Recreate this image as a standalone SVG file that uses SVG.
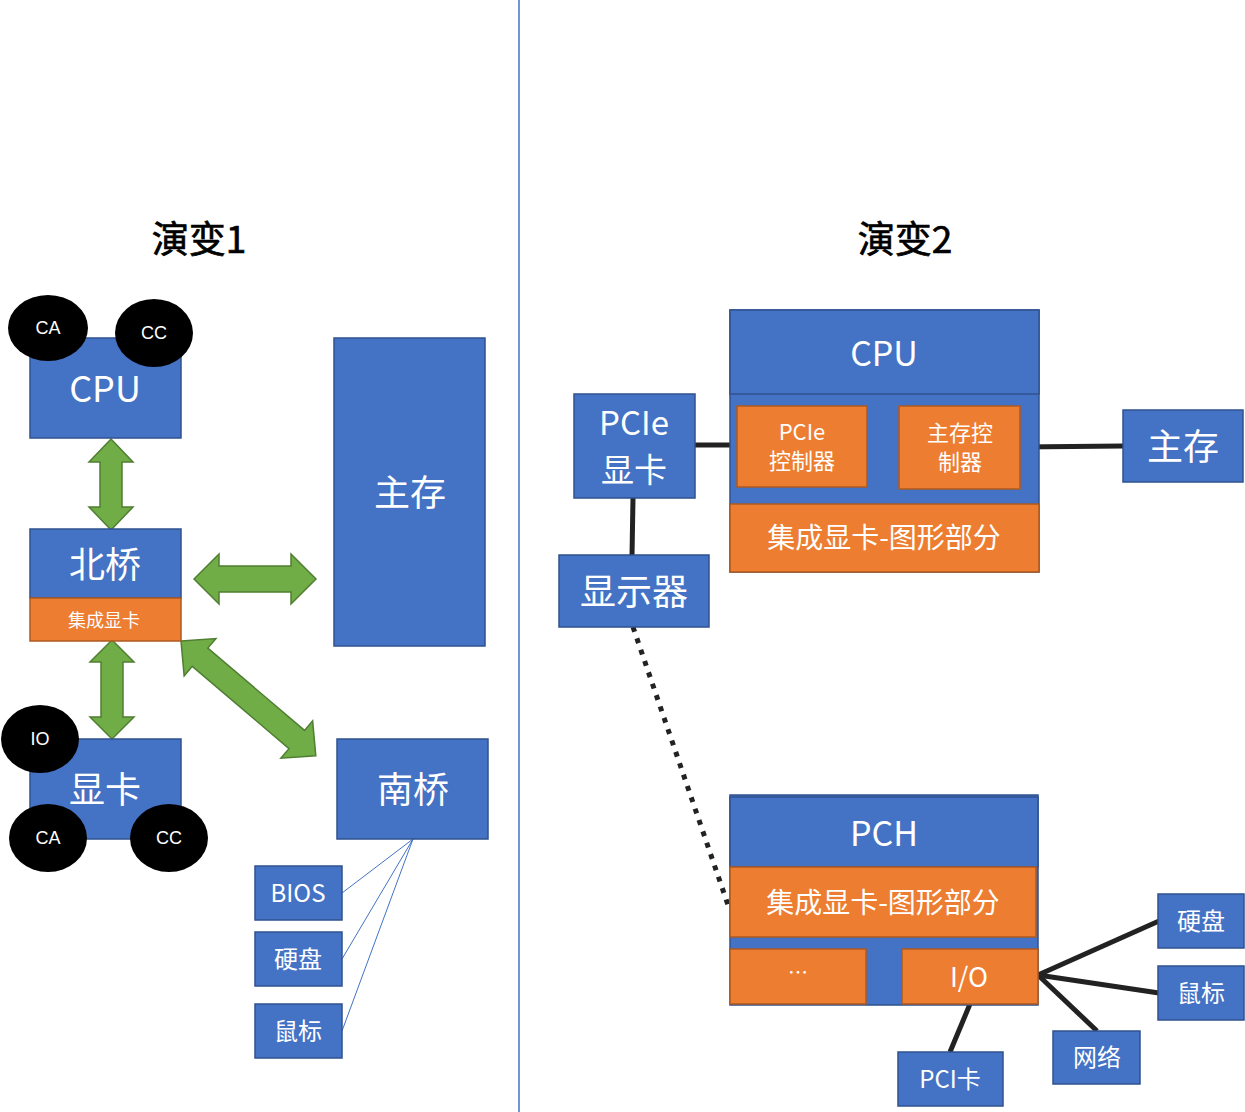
<svg xmlns="http://www.w3.org/2000/svg" width="1245" height="1112" viewBox="0 0 1245 1112">
<style>
.b{fill:#4472C4;stroke:#2F528F;stroke-width:1.5}
.o{fill:#ED7D31;stroke:#AE5A21;stroke-width:1.5}
.g{fill:#70AD47;stroke:#507E32;stroke-width:1.5}
.e{fill:#000}
.t{font-family:"Noto Sans CJK SC","Liberation Sans",sans-serif;fill:#fff;text-anchor:middle;dominant-baseline:central}
.et{font-family:"Liberation Sans","Noto Sans CJK SC",sans-serif;fill:#fff;text-anchor:middle;dominant-baseline:central;font-size:18px}
.h{font-family:"Noto Sans CJK SC","Liberation Sans",sans-serif;fill:#000;stroke:#000;stroke-width:0.7;font-size:37px;text-anchor:middle}
.k{stroke:#222;stroke-width:5;fill:none}
.thin{stroke:#4472C4;stroke-width:1;fill:none}
</style>
<rect width="1245" height="1112" fill="#fff"/>
<line x1="519" y1="0" x2="519" y2="1112" stroke="#4472C4" stroke-width="1.5"/>
<text class="h" x="199" y="253">演变1</text>
<text class="h" x="905" y="253">演变2</text>

<g id="connectors">
<polygon class="g" points="111,439 133,462 122,462 122,507 133,507 111,530 89,507 100,507 100,462 89,462"/>
<polygon class="g" points="112,640 134,662 123,662 123,717 134,717 112,739 90,717 101,717 101,662 90,662"/>
<polygon class="g" points="194,579 219,554 219,566 291,566 291,554 316,579 291,604 291,592 219,592 219,604"/>
<polygon class="g" transform="translate(181,641) rotate(40.4)" points="0,0 25,-24.5 25,-12 152,-12 152,-24.5 177,0 152,24.5 152,12 25,12 25,24.5"/>
<line class="thin" x1="413" y1="839" x2="342" y2="893"/>
<line class="thin" x1="413" y1="839" x2="342" y2="959"/>
<line class="thin" x1="413" y1="839" x2="342" y2="1031"/>
<line class="k" x1="695" y1="445" x2="738" y2="445"/>
<line class="k" x1="1020" y1="447" x2="1123" y2="446"/>
<line class="k" x1="633" y1="498" x2="632" y2="556"/>
<line x1="633" y1="627" x2="728" y2="905" stroke="#222" stroke-width="5" stroke-dasharray="5 7"/>
<line class="k" x1="1038" y1="975" x2="1159" y2="921"/>
<line class="k" x1="1038" y1="975" x2="1159" y2="993"/>
<line class="k" x1="1038" y1="975" x2="1097" y2="1031"/>
<line class="k" x1="970" y1="1004" x2="950" y2="1052"/>
</g>

<g id="cpu1"><rect class="b" x="30" y="338" width="151" height="100"/><text class="t" x="105" y="386" font-size="36">CPU</text></g>
<g id="ca1"><ellipse class="e" cx="48" cy="328" rx="40" ry="33"/><text class="et" x="48" y="328">CA</text></g>
<g id="cc1"><ellipse class="e" cx="154" cy="333" rx="39" ry="34"/><text class="et" x="154" y="333">CC</text></g>
<g id="northbridge"><rect class="b" x="30" y="529" width="151" height="69"/><text class="t" x="105" y="562" font-size="36">北桥</text></g>
<g id="igpu1"><rect class="o" x="30" y="598" width="151" height="43"/><text class="t" x="104" y="619" font-size="18">集成显卡</text></g>
<g id="mem1"><rect class="b" x="334" y="338" width="151" height="308"/><text class="t" x="410" y="490" font-size="36">主存</text></g>
<g id="gpu1"><rect class="b" x="30" y="739" width="151" height="100"/><text class="t" x="105" y="787" font-size="36">显卡</text></g>
<g id="io1"><ellipse class="e" cx="40" cy="739" rx="39" ry="34"/><text class="et" x="40" y="739">IO</text></g>
<g id="ca2"><ellipse class="e" cx="48" cy="838" rx="39" ry="34"/><text class="et" x="48" y="838">CA</text></g>
<g id="cc2"><ellipse class="e" cx="169" cy="838" rx="39" ry="34"/><text class="et" x="169" y="838">CC</text></g>
<g id="southbridge"><rect class="b" x="337" y="739" width="151" height="100"/><text class="t" x="413" y="787" font-size="36">南桥</text></g>
<g id="bios"><rect class="b" x="255" y="866" width="87" height="54"/><text class="t" x="298" y="891" font-size="24">BIOS</text></g>
<g id="disk1"><rect class="b" x="255" y="932" width="87" height="54"/><text class="t" x="298" y="957" font-size="24">硬盘</text></g>
<g id="mouse1"><rect class="b" x="255" y="1004" width="87" height="54"/><text class="t" x="298" y="1029" font-size="24">鼠标</text></g>

<g id="cpu2"><rect class="b" x="730" y="310" width="309" height="262"/><rect class="b" x="730" y="310" width="309" height="84"/><text class="t" x="884" y="351" font-size="34">CPU</text></g>
<g id="pciectl"><rect class="o" x="737" y="406" width="130" height="81"/><text class="t" x="802" y="430" font-size="22">PCIe</text><text class="t" x="802" y="459" font-size="22">控制器</text></g>
<g id="memctl"><rect class="o" x="899" y="406" width="121" height="83"/><text class="t" x="960" y="431" font-size="22">主存控</text><text class="t" x="960" y="460" font-size="22">制器</text></g>
<g id="igpu2"><rect class="o" x="730" y="504" width="309" height="68"/><text class="t" x="884" y="536" font-size="28">集成显卡-图形部分</text></g>
<g id="pciegpu"><rect class="b" x="574" y="394" width="121" height="104"/><text class="t" x="634" y="421" font-size="33">PCIe</text><text class="t" x="634" y="468" font-size="33">显卡</text></g>
<g id="mem2"><rect class="b" x="1123" y="410" width="120" height="72"/><text class="t" x="1183" y="444" font-size="36">主存</text></g>
<g id="monitor"><rect class="b" x="559" y="555" width="150" height="72"/><text class="t" x="634" y="589" font-size="36">显示器</text></g>

<g id="pch"><rect class="b" x="730" y="795" width="308" height="210"/><rect class="b" x="730" y="797" width="308" height="70"/><text class="t" x="884" y="831" font-size="34">PCH</text></g>
<g id="igpu3"><rect class="o" x="730" y="867" width="306" height="70"/><text class="t" x="883" y="901" font-size="28">集成显卡-图形部分</text></g>
<g id="etc"><rect class="o" x="730" y="949" width="136" height="55"/><text class="t" x="798" y="971" font-size="20">…</text></g>
<g id="io2"><rect class="o" x="902" y="949" width="136" height="55"/><text class="t" x="969" y="975" font-size="27">I/O</text></g>
<g id="disk2"><rect class="b" x="1158" y="894" width="86" height="54"/><text class="t" x="1201" y="919" font-size="24">硬盘</text></g>
<g id="mouse2"><rect class="b" x="1158" y="966" width="86" height="54"/><text class="t" x="1201" y="991" font-size="24">鼠标</text></g>
<g id="net"><rect class="b" x="1053" y="1031" width="87" height="53"/><text class="t" x="1097" y="1055" font-size="24">网络</text></g>
<g id="pcicard"><rect class="b" x="898" y="1052" width="105" height="54"/><text class="t" x="950" y="1077" font-size="24">PCI卡</text></g>
</svg>
